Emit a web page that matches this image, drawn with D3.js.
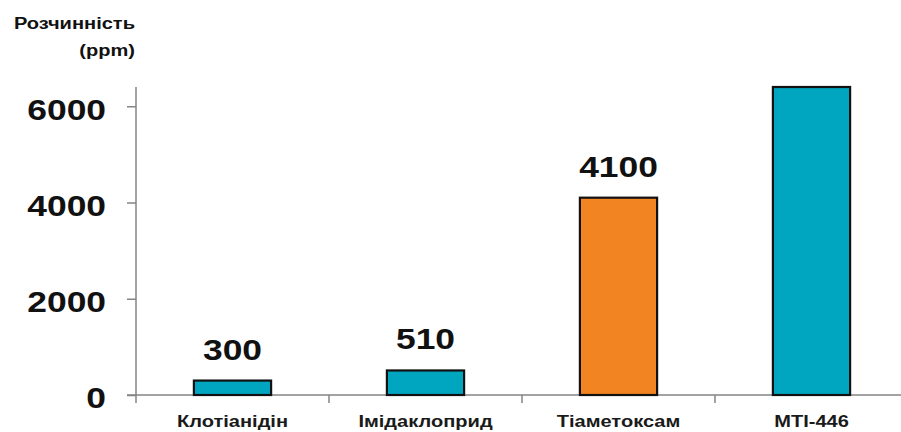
<!DOCTYPE html>
<html>
<head>
<meta charset="utf-8">
<script src="https://cdn.jsdelivr.net/npm/d3@7"></script>
<style>
  body { margin: 0; background: #fff; }
  text { font-family: "Liberation Sans", Arial, sans-serif; }
</style>
</head>
<body>
<div id="chart"></div>
<script>
var categories = ["Клотіанідін", "Імідаклоприд", "Тіаметоксам", "MTI-446"];
var values = [300, 510, 4100, 6400];
var valueLabels = ["300", "510", "4100", null];
var barColors = ["#00a6c0", "#00a6c0", "#f28522", "#00a6c0"];
var yTicks = [0, 2000, 4000, 6000];

var svgWidth = 901;
var svgHeight = 432;
var stretch = 1.18; // source picture is stretched horizontally

var svg = d3.select("#chart")
  .append("svg")
  .attr("width", svgWidth)
  .attr("height", svgHeight);

var x0 = 136, baseY = 395, topY = 87;

var x = d3.scaleBand()
  .domain(categories)
  .range([x0, 908])
  .padding(0);

var y = d3.scaleLinear()
  .domain([0, 6400])
  .range([baseY, topY]);

var axisColor = "#858585";

// y axis
var yAxis = svg.append("g")
  .attr("transform", `translate(${x0},0)`)
  .call(d3.axisLeft(y).tickValues(yTicks).tickFormat(d3.format("d")).tickSize(9).tickSizeOuter(0));
yAxis.select(".domain").remove();
yAxis.selectAll("line").attr("stroke", axisColor).attr("stroke-width", 1.5);
yAxis.selectAll("text")
  .attr("x", null)
  .attr("dy", "0.43em")
  .attr("transform", `translate(-30,0) scale(${stretch},1)`)
  .style("font-size", "30px")
  .style("font-weight", "bold")
  .attr("fill", "#111");

svg.append("line")
  .attr("x1", x0).attr("x2", x0)
  .attr("y1", topY).attr("y2", baseY + 8)
  .attr("stroke", axisColor).attr("stroke-width", 1.5);

// x axis line and boundary ticks
svg.append("line")
  .attr("x1", x0 - 9).attr("x2", svgWidth)
  .attr("y1", baseY).attr("y2", baseY)
  .attr("stroke", axisColor).attr("stroke-width", 1.5);

svg.selectAll(".xtick")
  .data(categories.slice(1))
  .enter()
  .append("line")
  .attr("x1", d => x(d)).attr("x2", d => x(d))
  .attr("y1", baseY).attr("y2", baseY + 8)
  .attr("stroke", axisColor).attr("stroke-width", 1.5);

// bars
var barW = x.bandwidth() * 0.4;
svg.selectAll(".bar")
  .data(values)
  .enter()
  .append("rect")
  .attr("x", (d, i) => x(categories[i]) + x.bandwidth() / 2 - barW / 2)
  .attr("y", d => y(d))
  .attr("width", barW)
  .attr("height", d => baseY - y(d))
  .attr("fill", (d, i) => barColors[i])
  .attr("stroke", "#111")
  .attr("stroke-width", 2.2);

// value labels
svg.selectAll(".vlabel")
  .data(values)
  .enter()
  .filter((d, i) => valueLabels[i] !== null)
  .append("text")
  .attr("transform", (d, i) => `translate(${x(categories[i]) + x.bandwidth() / 2},${y(d) - 21}) scale(${stretch},1)`)
  .attr("text-anchor", "middle")
  .style("font-size", "30px")
  .style("font-weight", "bold")
  .attr("fill", "#111")
  .text((d, i) => valueLabels[i]);

// category labels
svg.selectAll(".clabel")
  .data(categories)
  .enter()
  .append("text")
  .attr("transform", d => `translate(${x(d) + x.bandwidth() / 2},427) scale(${stretch},1)`)
  .attr("text-anchor", "middle")
  .style("font-size", "17px")
  .style("font-weight", "bold")
  .attr("fill", "#1a1a1a")
  .text(d => d);

// axis title
svg.append("text")
  .attr("transform", `translate(135,29) scale(${stretch},1)`)
  .attr("text-anchor", "end")
  .style("font-size", "17px")
  .style("font-weight", "bold")
  .attr("fill", "#111")
  .text("Розчинність");

svg.append("text")
  .attr("transform", `translate(135,56) scale(${stretch},1)`)
  .attr("text-anchor", "end")
  .style("font-size", "17px")
  .style("font-weight", "bold")
  .attr("fill", "#111")
  .text("(ppm)");
</script>
</body>
</html>
